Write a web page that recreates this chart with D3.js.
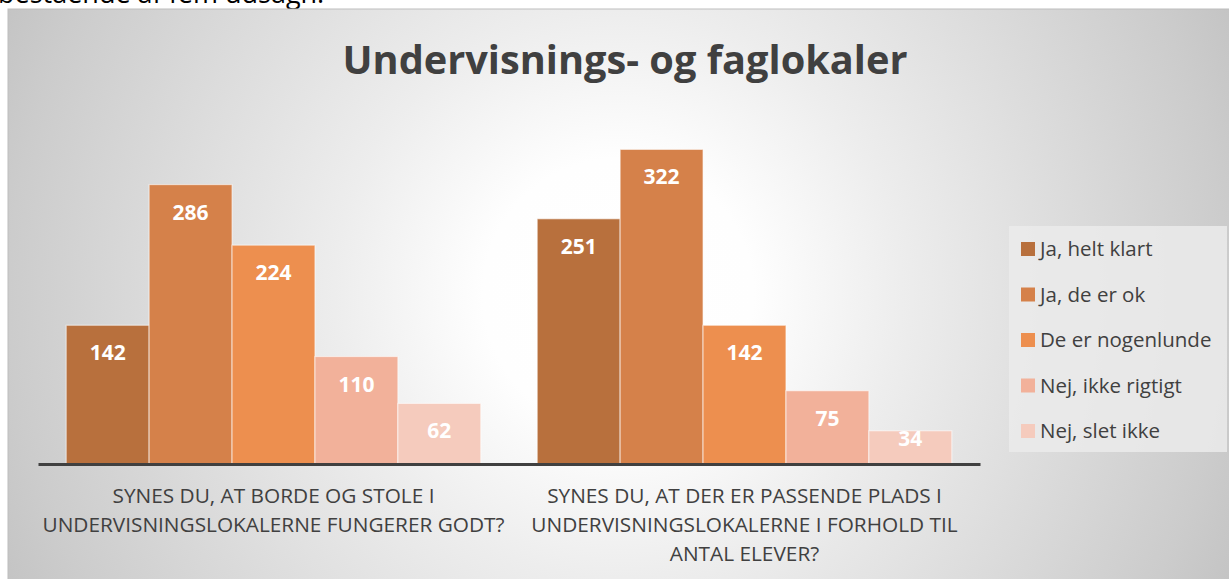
<!DOCTYPE html>
<html>
<head>
<meta charset="utf-8">
<script src="https://cdn.jsdelivr.net/npm/d3@7"></script>
<style>
  html, body { margin: 0; padding: 0; background: #ffffff; overflow: hidden; }
  svg { display: block; }
</style>
</head>
<body>
<svg id="chart"></svg>
<script>
// data
const categories = [
  "SYNES DU, AT BORDE OG STOLE I UNDERVISNINGSLOKALERNE FUNGERER GODT?",
  "SYNES DU, AT DER ER PASSENDE PLADS I UNDERVISNINGSLOKALERNE I FORHOLD TIL ANTAL ELEVER?"
];
const series = ["Ja, helt klart", "Ja, de er ok", "De er nogenlunde", "Nej, ikke rigtigt", "Nej, slet ikke"];
const bordeOgStole = [142, 286, 224, 110, 62];
const passendePlads = [251, 322, 142, 75, 34];
const colors = ["#b8703d", "#d5814a", "#ed8f4f", "#f2b19a", "#f5cbbd"];

const width = 1229, height = 579;
const baseline = 464;

const svg = d3.select("#chart").attr("width", width).attr("height", height);
const defs = svg.append("defs");

const grad = defs.append("radialGradient")
  .attr("id", "bg")
  .attr("gradientUnits", "userSpaceOnUse")
  .attr("cx", 618).attr("cy", 294).attr("r", 676);
grad.append("stop").attr("offset", "0").attr("stop-color", "#ffffff");
grad.append("stop").attr("offset", "0.2").attr("stop-color", "#fefefe");
grad.append("stop").attr("offset", "0.42").attr("stop-color", "#ededed");
grad.append("stop").attr("offset", "0.9").attr("stop-color", "#cccccc");
grad.append("stop").attr("offset", "1").attr("stop-color", "#c4c4c4");

// text cut at top of the page
svg.append("text")
  .attr("x", -2).attr("y", 3)
  .style("font-family", "'Open Sans', sans-serif")
  .style("font-size", "27px")
  .attr("fill", "#000")
  .text("bestående af fem udsagn.");

svg.append("rect")
  .attr("x", 8).attr("y", 9)
  .attr("width", width).attr("height", height)
  .attr("fill", "url(#bg)")
  .attr("stroke", "#bdbdbd")
  .attr("stroke-width", 1);

svg.append("text")
  .attr("x", 625).attr("y", 74)
  .attr("text-anchor", "middle")
  .attr("textLength", 565)
  .attr("lengthAdjust", "spacingAndGlyphs")
  .style("font-family", "'Open Sans', sans-serif")
  .style("font-weight", "bold")
  .style("font-size", "40px")
  .attr("fill", "#404040")
  .text("Undervisnings- og faglokaler");

const rows = categories.map((c, i) => ({
  category: c,
  values: series.map((s, j) => ({ key: s, value: (i === 0 ? bordeOgStole : passendePlads)[j], color: colors[j] }))
}));

const x0 = d3.scaleBand().domain(categories).range([38, 980]).padding(0);
const x1 = d3.scaleBand().domain(series).range([0, x0.bandwidth()]).paddingInner(0).paddingOuter(0.34);
const y = d3.scaleLinear().domain([0, 350]).range([baseline, baseline - 350 * 0.977]);

const groups = svg.append("g").selectAll("g")
  .data(rows)
  .join("g")
  .attr("transform", (d) => `translate(${x0(d.category)},0)`);

groups.selectAll("rect")
  .data((d) => d.values)
  .join("rect")
  .attr("x", (d) => x1(d.key))
  .attr("y", (d) => y(d.value))
  .attr("width", x1.bandwidth())
  .attr("height", (d) => baseline - y(d.value))
  .attr("fill", (d) => d.color)
  .attr("stroke", "rgba(255,255,255,0.55)")
  .attr("stroke-width", 1.2);

groups.selectAll("text.val")
  .data((d) => d.values)
  .join("text")
  .attr("class", "val")
  .attr("x", (d) => x1(d.key) + x1.bandwidth() / 2)
  .attr("y", (d) => Math.min(y(d.value) + 35, baseline - 18))
  .attr("text-anchor", "middle")
  .style("font-family", "'Open Sans', sans-serif")
  .style("font-weight", "bold")
  .style("font-size", "21px")
  .attr("fill", "#ffffff")
  .text((d) => d.value);

// x axis line
svg.append("g")
  .attr("transform", `translate(0,${baseline})`)
  .call(d3.axisBottom(x0).tickSize(0).tickFormat(""))
  .call((g) => g.select(".domain").attr("stroke", "#404040").attr("stroke-width", 3));

// category labels, wrapped
const catLabels = svg.append("g").selectAll("text")
  .data(categories)
  .join("text")
  .attr("x", (d) => x0(d) + x0.bandwidth() / 2)
  .attr("y", 503)
  .attr("text-anchor", "middle")
  .style("font-family", "'Open Sans', sans-serif")
  .style("font-size", "20.8px")
  .attr("fill", "#404040");

catLabels.each(function (d) {
  const t = d3.select(this);
  const words = d.split(" ");
  let line = [];
  let tspan = t.append("tspan").attr("x", t.attr("x")).attr("dy", 0);
  words.forEach((w) => {
    line.push(w);
    tspan.text(line.join(" "));
    if (tspan.node().getComputedTextLength() > 472 && line.length > 1) {
      line.pop();
      tspan.text(line.join(" "));
      line = [w];
      tspan = t.append("tspan").attr("x", t.attr("x")).attr("dy", 29).text(w);
    }
  });
});

// legend
const legend = svg.append("g");
legend.append("rect")
  .attr("x", 1009).attr("y", 226)
  .attr("width", 218).attr("height", 226)
  .attr("fill", "#ebebeb")
  .attr("fill-opacity", 0.85);

const items = legend.selectAll("g.item")
  .data(series)
  .join("g")
  .attr("class", "item")
  .attr("transform", (d, i) => `translate(1021,${242 + i * 45.5})`);

items.append("rect")
  .attr("width", 14).attr("height", 14)
  .attr("fill", (d, i) => colors[i]);

items.append("text")
  .attr("x", 19).attr("y", 14)
  .style("font-family", "'Open Sans', sans-serif")
  .style("font-size", "20.5px")
  .attr("fill", "#404040")
  .text((d) => d);
</script>
</body>
</html>
